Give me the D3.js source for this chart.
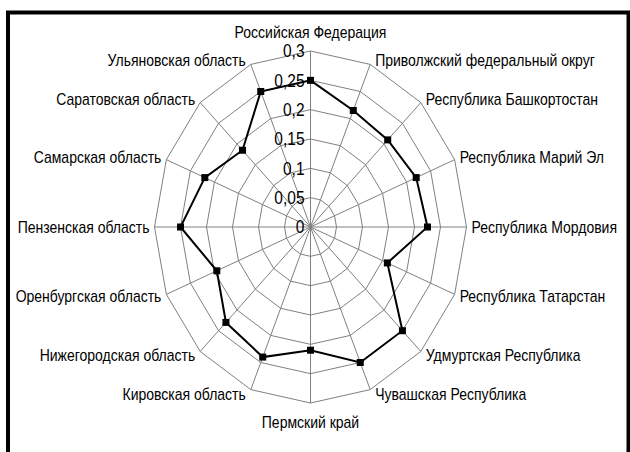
<!DOCTYPE html>
<html>
<head>
<meta charset="utf-8">
<script src="https://cdn.jsdelivr.net/npm/d3@7"></script>
<style>
  body { margin: 0; background: #fff; }
  text { font-family: "Liberation Sans", Arial, sans-serif; fill: #000; }
</style>
</head>
<body>
<div id="radar-div"></div>
<script>
// categories, clockwise from the top
var regions = [
  "Российская Федерация",
  "Приволжский федеральный округ",
  "Республика Башкортостан",
  "Республика Марий Эл",
  "Республика Мордовия",
  "Республика Татарстан",
  "Удмуртская Республика",
  "Чувашская Республика",
  "Пермский край",
  "Кировская область",
  "Нижегородская область",
  "Оренбургская область",
  "Пензенская область",
  "Самарская область",
  "Саратовская область",
  "Ульяновская область"
];

var values = [0.25, 0.215, 0.21, 0.22, 0.225, 0.16, 0.25, 0.25,
              0.21, 0.24, 0.23, 0.195, 0.25, 0.22, 0.185, 0.25];

var ticks = [0, 0.05, 0.1, 0.15, 0.2, 0.25, 0.3];
var tickLabels = ["0", "0,05", "0,1", "0,15", "0,2", "0,25", "0,3"];

var W = 630, H = 452;
var cx = 310.5, cy = 227;
var stretch = 1.14;   // text in the picture is a little taller than wide

var svg = d3.select("#radar-div")
  .append("svg")
    .attr("width", W)
    .attr("height", H);

// the picture is a bit taller than wide, so two radial scales
var rx = d3.scaleLinear().domain([0, 0.3]).range([0, 156]);
var ry = d3.scaleLinear().domain([0, 0.3]).range([0, 176]);

var angle = d3.scalePoint()
  .domain(d3.range(regions.length + 1))
  .range([0, 2 * Math.PI]);

function px(i, v) { return cx + rx(v) * Math.sin(angle(i)); }
function py(i, v) { return cy - ry(v) * Math.cos(angle(i)); }
function place(x, y) { return "translate(" + x + "," + y + ") scale(1," + stretch + ")"; }

var g = svg.append("g");

// rings
g.selectAll(".ring")
  .data(ticks.slice(1))
  .enter()
  .append("polygon")
    .attr("class", "ring")
    .attr("points", t => regions.map((r, i) => px(i, t) + "," + py(i, t)).join(" "))
    .attr("fill", "none")
    .attr("stroke", "#808080")
    .attr("stroke-width", 1);

// spokes
g.selectAll(".spoke")
  .data(regions)
  .enter()
  .append("line")
    .attr("class", "spoke")
    .attr("x1", cx)
    .attr("y1", cy)
    .attr("x2", (d, i) => px(i, 0.3))
    .attr("y2", (d, i) => py(i, 0.3))
    .attr("stroke", "#808080")
    .attr("stroke-width", 1);

// tick labels along the top spoke
g.selectAll(".tick-label")
  .data(ticks)
  .enter()
  .append("text")
    .attr("class", "tick-label")
    .attr("transform", t => place(cx - 6, cy - ry(t)))
    .attr("dy", "0.36em")
    .attr("text-anchor", "end")
    .style("font-size", "15.5px")
    .text((t, i) => tickLabels[i]);

// category labels
g.selectAll(".cat-label")
  .data(regions)
  .enter()
  .append("text")
    .attr("class", "cat-label")
    .attr("transform", (d, i) => {
      var s = Math.sin(angle(i)), c = Math.cos(angle(i));
      var x = px(i, 0.3) + (Math.abs(s) < 0.01 ? 0 : (s > 0 ? 5 : -5));
      var y = py(i, 0.3) - (Math.abs(s) < 0.01 ? 19 * c : 5 * c);
      return place(x, y);
    })
    .attr("dy", "0.36em")
    .attr("text-anchor", (d, i) => {
      var s = Math.sin(angle(i));
      return Math.abs(s) < 0.01 ? "middle" : (s > 0 ? "start" : "end");
    })
    .style("font-size", "14px")
    .text(d => d);

// data line
var line = d3.line()
  .x((d, i) => px(i, d))
  .y((d, i) => py(i, d))
  .curve(d3.curveLinearClosed);

g.append("path")
  .datum(values)
  .attr("d", line)
  .attr("fill", "none")
  .attr("stroke", "#000")
  .attr("stroke-width", 2);

g.selectAll(".marker")
  .data(values)
  .enter()
  .append("rect")
    .attr("class", "marker")
    .attr("x", (d, i) => px(i, d) - 3.5)
    .attr("y", (d, i) => py(i, d) - 3.5)
    .attr("width", 7)
    .attr("height", 7)
    .attr("fill", "#000");

// frame
svg.append("rect")
  .attr("x", 8)
  .attr("y", 12.5)
  .attr("width", 620.5)
  .attr("height", 450)
  .attr("fill", "none")
  .attr("stroke", "#000")
  .attr("stroke-width", 4);
</script>
</body>
</html>
